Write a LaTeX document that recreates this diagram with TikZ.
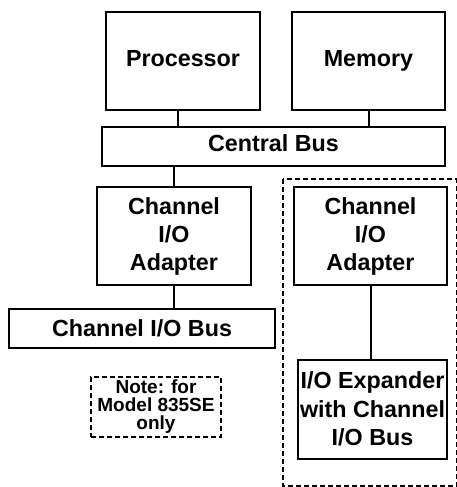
\documentclass[tikz,border=0pt]{standalone}
\usepackage{fontspec}
\setmainfont{Liberation Sans}

\begin{document}
\begin{tikzpicture}[
  x=1pt,y=-1pt,
  line width=2pt,
  every node/.style={draw,rectangle,inner sep=0pt,outer sep=0pt,align=center,font=\fontsize{23.3}{28}\selectfont\bfseries},
  unitbox/.style={minimum width=154pt,minimum height=98pt},
  busbox/.style={minimum height=39pt},
  oneline/.style={text height=16.5pt,text depth=0pt},
  highline/.style={text height=16.5pt,text depth=6pt},
  notebox/.style={dash pattern=on 5pt off 3pt,line width=1.5pt,minimum width=130pt,minimum height=60pt,font=\fontsize{19}{18}\selectfont\bfseries}
]
  \useasboundingbox (0,0) rectangle (457,487);
  \node[unitbox,highline] (proc) at (183,61) {Processor};
  \node[unitbox,highline,minimum width=153pt] (mem) at (368.5,61) {Memory};
  \node[busbox,highline,minimum width=343pt] (cbus) at (273.5,146.5) {Central Bus};
  \node[unitbox] (adapl) at (174,236) {Channel\\I/O\\Adapter};
  \node[unitbox,minimum width=153pt] (adapr) at (370.5,236) {Channel\\I/O\\Adapter};
  \node[busbox,oneline,minimum width=266pt] (iobus) at (142,328.5) {Channel I/O Bus};
  \node[minimum width=149pt,minimum height=99pt,font=\fontsize{23.3}{28.5}\selectfont\bfseries] (expd) at (372.5,409) {I/O Expander\\with Channel\\I/O Bus};
  \node[notebox] (note) at (156,407) {Note: for\\Model 835SE\\only};
  % 835SE part
  \draw[dash pattern=on 5pt off 3pt,line width=1.5pt] (283,179) rectangle (456.5,486);
  \draw ([xshift=-5pt]proc.south) -- ([xshift=-5pt]proc.south |- cbus.north);
  \draw (mem.south) -- (mem.south |- cbus.north);
  \draw (cbus.south -| adapl.north) -- (adapl.north);
  \draw (cbus.south -| mem.south) -- (cbus.south -| mem.south |- adapr.north);
  \draw (adapl.south) -- (adapl.south |- iobus.north);
  \draw (adapr.south) -- (expd.north -| adapr.south);
\end{tikzpicture}
\end{document}
